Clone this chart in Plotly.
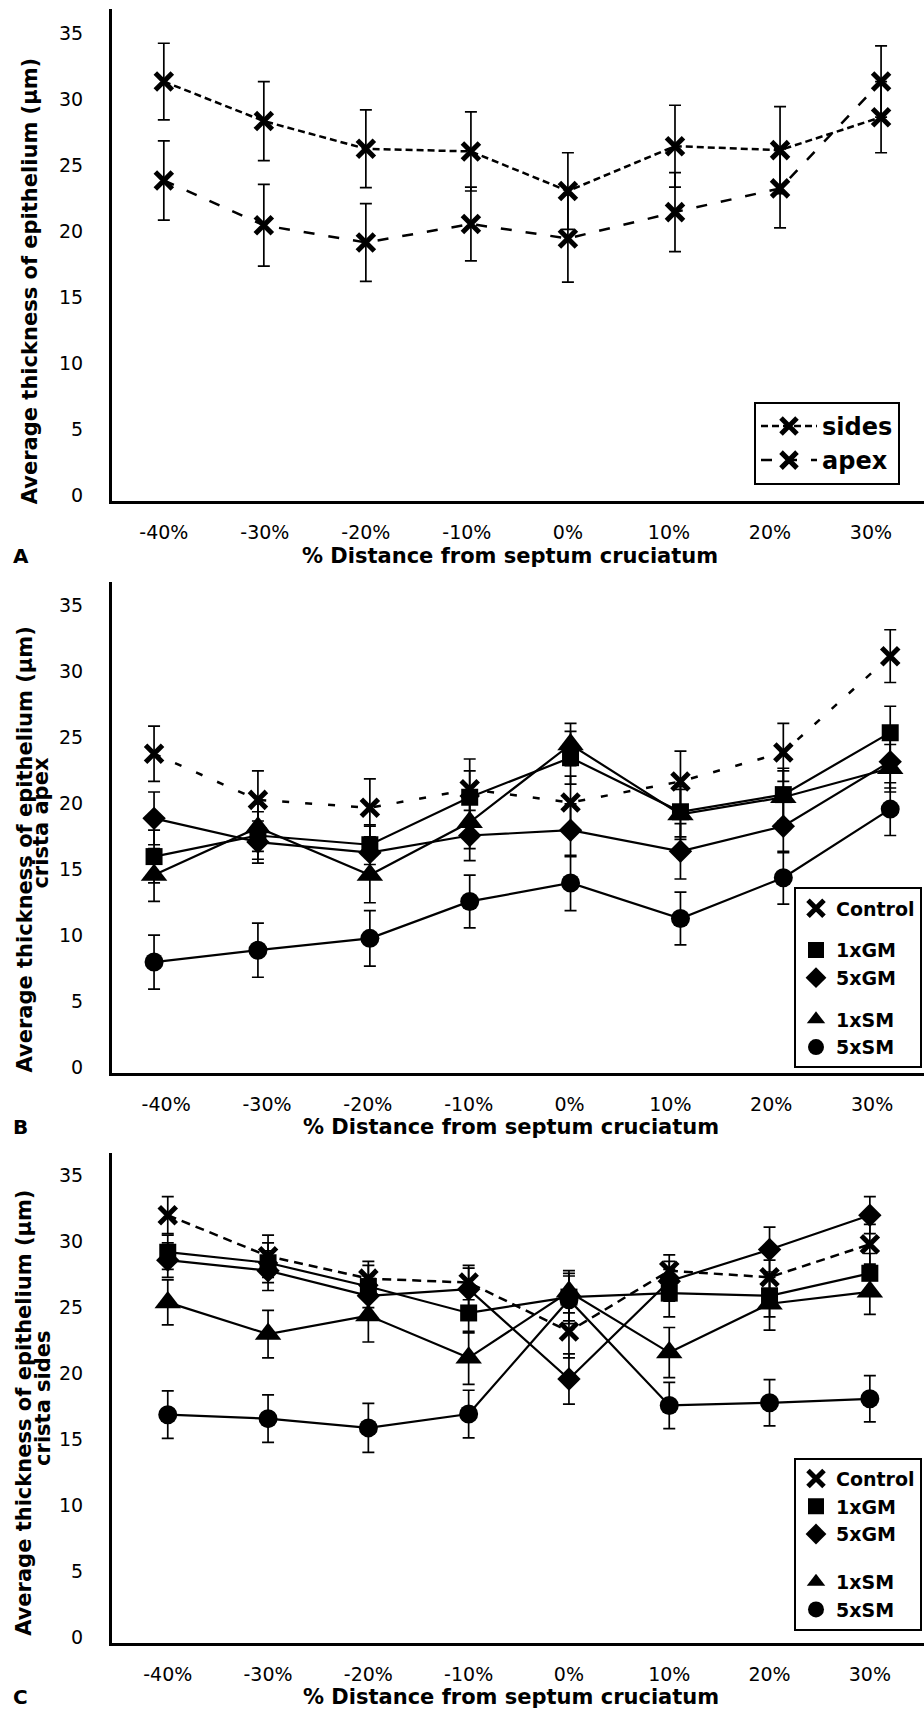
import plotly.graph_objects as go

W, H = 924, 1714

# ---------------- data ----------------
x_ticks = [-40, -30, -20, -10, 0, 10, 20, 30]
x_ticktext = ['-40%', '-30%', '-20%', '-10%', '0%', '10%', '20%', '30%']
y_ticks = [0, 5, 10, 15, 20, 25, 30, 35]
y_ticktext = ['0', '5', '10', '15', '20', '25', '30', '35']

# Panel A
a_x = [-40, -30.1, -20, -9.6, 0, 10.6, 21.0, 31.0]
a_sides = [31.8, 28.8, 26.7, 26.5, 23.5, 26.9, 26.6, 29.1]
a_sides_err = [2.9, 3.0, 2.95, 3.0, 2.9, 3.1, 3.3, 2.7]
a_apex = [24.3, 20.9, 19.6, 21.0, 19.9, 21.9, 23.7, 31.8]
a_apex_err = [3.0, 3.1, 2.95, 2.8, 3.3, 3.0, 3.0, 2.7]

# Panel B (crista apex)
b_x = [-41.2, -30.9, -19.8, -9.9, 0.1, 11.0, 21.2, 31.8]
b_control = [24.2, 20.7, 20.1, 21.5, 20.5, 22.1, 24.3, 31.6]
b_control_err = [2.1, 2.2, 2.2, 2.3, 2.0, 2.3, 2.2, 2.0]
b_1xgm = [16.4, 18.0, 17.3, 20.9, 23.9, 19.8, 21.1, 25.8]
b_1xgm_err = [2.0, 1.8, 1.5, 2.0, 2.0, 1.9, 2.0, 2.0]
b_5xgm = [19.3, 17.5, 16.7, 18.0, 18.4, 16.8, 18.7, 23.6]
b_5xgm_err = [2.0, 1.6, 2.0, 1.9, 2.0, 2.1, 2.0, 2.0]
b_1xsm = [15.0, 18.6, 15.0, 19.0, 24.9, 19.6, 20.9, 23.1]
b_1xsm_err = [2.0, 1.8, 2.1, 2.0, 1.6, 1.9, 2.0, 1.8]
b_5xsm = [8.4, 9.3, 10.2, 13.0, 14.4, 11.7, 14.8, 20.0]
b_5xsm_err = [2.05, 2.05, 2.1, 2.0, 2.1, 2.0, 2.0, 2.0]

# Panel C (crista sides)
c_x = [-40, -30, -20, -10, 0, 10, 20, 30]
c_control = [32.4, 29.3, 27.6, 27.3, 23.6, 28.2, 27.7, 30.2]
c_control_err = [1.4, 1.6, 1.3, 1.3, 2.0, 1.2, 1.3, 1.5]
c_1xgm = [29.6, 28.8, 27.0, 25.0, 26.2, 26.5, 26.3, 28.0]
c_1xgm_err = [1.3, 1.5, 1.6, 1.5, 1.8, 1.8, 1.6, 1.5]
c_5xgm = [29.0, 28.2, 26.3, 26.8, 20.0, 27.4, 29.8, 32.4]
c_5xgm_err = [1.3, 1.5, 1.5, 1.6, 1.9, 1.5, 1.7, 1.4]
c_1xsm = [25.8, 23.4, 24.8, 21.6, 26.6, 22.0, 25.7, 26.6]
c_1xsm_err = [1.7, 1.8, 2.0, 2.0, 1.6, 1.9, 2.0, 1.7]
c_5xsm = [17.3, 17.0, 16.3, 17.35, 26.0, 18.0, 18.2, 18.5]
c_5xsm_err = [1.8, 1.8, 1.85, 1.8, 1.8, 1.75, 1.75, 1.75]

# ---------------- styling ----------------
TICK_FONT = dict(family='DejaVu Sans', size=19, color='black')
BOLD = 'DejaVu Sans'
SYMS = {'Control': 'x-thin', '1xGM': 'square', '5xGM': 'diamond',
        '1xSM': 'triangle-up', '5xSM': 'circle'}
SIZES = {'Control': 17, '1xGM': 17, '5xGM': 18, '1xSM': 23, '5xSM': 19}


def px_x(p):
    return p / W


def px_y(p):
    return 1 - p / H


panels = [
    # (suffix, x-range, y-range, domain top px, domain bottom px)
    ('', [-45.13, 35.25], [0, 37.3], 9, 502.5),
    ('2', [-45.37, 35.15], [0, 37.2], 584, 1076),
    ('3', [-45.56, 35.4], [0, 37.1], 1156.5, 1648),
]

fig = go.Figure()


def marker_for(name):
    sym = SYMS[name]
    if sym == 'x-thin':
        return dict(symbol=sym, size=SIZES[name], color='black',
                    line=dict(color='black', width=5))
    return dict(symbol=sym, size=SIZES[name], color='black',
                line=dict(width=0))


def err(arr):
    return dict(type='data', array=arr, visible=True, color='black',
                thickness=1.7, width=6)


# Panel A traces (these also carry the legend)
fig.add_trace(go.Scatter(
    x=a_x, y=a_sides, error_y=err(a_sides_err), mode='lines+markers',
    name='<b>sides</b>', xaxis='x', yaxis='y', legend='legend',
    line=dict(color='black', width=2.5, dash='7px,4px'),
    marker=marker_for('Control')))
fig.add_trace(go.Scatter(
    x=a_x, y=a_apex, error_y=err(a_apex_err), mode='lines+markers',
    name='<b>apex</b>', xaxis='x', yaxis='y', legend='legend',
    line=dict(color='black', width=2.5, dash='11px,14px'),
    marker=marker_for('Control')))

series_b = [('Control', b_control, b_control_err), ('1xGM', b_1xgm, b_1xgm_err),
            ('5xGM', b_5xgm, b_5xgm_err), ('1xSM', b_1xsm, b_1xsm_err),
            ('5xSM', b_5xsm, b_5xsm_err)]
series_c = [('Control', c_control, c_control_err), ('1xGM', c_1xgm, c_1xgm_err),
            ('5xGM', c_5xgm, c_5xgm_err), ('1xSM', c_1xsm, c_1xsm_err),
            ('5xSM', c_5xsm, c_5xsm_err)]

groups_b = {'Control': 'g1', '1xGM': 'g2', '5xGM': 'g2', '1xSM': 'g3', '5xSM': 'g3'}
groups_c = {'Control': 'g1', '1xGM': 'g1', '5xGM': 'g1', '1xSM': 'g2', '5xSM': 'g2'}

for xs, series, ax, ay, leg, groups, cdash in [
        (b_x, series_b, 'x2', 'y2', 'legend2', groups_b, '7px,16px'),
        (c_x, series_c, 'x3', 'y3', 'legend3', groups_c, '9px,6px')]:
    for name, vals, e in series:
        fig.add_trace(go.Scatter(
            x=xs, y=vals, error_y=err(e), mode='lines+markers', name=name,
            xaxis=ax, yaxis=ay, showlegend=False,
            line=dict(color='black', width=2.5 if name == 'Control' else 2.2,
                      dash=cdash if name == 'Control' else 'solid'),
            marker=marker_for(name)))
    # legend entries (marker only, as in the reference)
    for name, vals, e in series:
        fig.add_trace(go.Scatter(
            x=[None], y=[None], mode='markers', name='<b>%s</b>' % name,
            xaxis=ax, yaxis=ay, legend=leg, legendgroup=leg + groups[name],
            marker=marker_for(name), showlegend=True))

layout = dict(
    width=W, height=H, margin=dict(l=0, r=0, t=0, b=0),
    paper_bgcolor='white', plot_bgcolor='white', showlegend=True,
    font=dict(family='DejaVu Sans', color='black'),
)

CLEAR = 'rgba(0,0,0,0)'
for i, (suf, xr, yr, top, bot) in enumerate(panels):
    ydom = [px_y(bot), px_y(top)]
    xdom = [px_x(112), 1.0]
    # main axes: transparent long ticks only set the label distance
    layout['xaxis' + suf] = dict(
        domain=xdom, range=xr, anchor='y' + suf, tickvals=x_ticks,
        ticktext=x_ticktext, ticks='outside', ticklen=12, tickwidth=3,
        tickcolor=CLEAR, showline=True, linewidth=3, linecolor='black',
        showgrid=False, zeroline=False, tickfont=TICK_FONT)
    layout['yaxis' + suf] = dict(
        domain=ydom, range=yr, anchor='x' + suf, tickvals=y_ticks,
        ticktext=y_ticktext,
        ticks='outside', ticklen=22, tickwidth=3, tickcolor=CLEAR,
        showline=True, linewidth=3, linecolor='black', showgrid=False,
        zeroline=False, tickfont=TICK_FONT, ticklabelshift=-6)
    # overlay axes drawing the visible crossing tick marks
    layout['xaxis' + str(4 + i)] = dict(
        overlaying='x' + suf, anchor='y' + suf, range=xr, tickvals=x_ticks,
        ticks='inside', ticklen=8, tickwidth=3, tickcolor='black',
        showticklabels=False, showline=False, showgrid=False, zeroline=False)
    layout['xaxis' + str(7 + i)] = dict(
        overlaying='x' + suf, anchor='y' + suf, range=xr, tickvals=x_ticks,
        ticks='outside', ticklen=8, tickwidth=3, tickcolor='black',
        showticklabels=False, showline=False, showgrid=False, zeroline=False)
    layout['yaxis' + str(4 + i)] = dict(
        overlaying='y' + suf, anchor='x' + suf, range=yr, tickvals=y_ticks,
        ticks='inside', ticklen=10, tickwidth=3, tickcolor='black',
        showticklabels=False, showline=False, showgrid=False, zeroline=False)
    layout['yaxis' + str(7 + i)] = dict(
        overlaying='y' + suf, anchor='x' + suf, range=yr, tickvals=y_ticks,
        ticks='outside', ticklen=7, tickwidth=3, tickcolor='black',
        showticklabels=False, showline=False, showgrid=False, zeroline=False)

legend_common = dict(bgcolor='white', bordercolor='black', borderwidth=2,
                     orientation='v')
layout['legend'] = dict(legend_common, x=px_x(754), y=px_y(403),
                        xanchor='left', yanchor='top',
                        font=dict(family=BOLD, size=24, color='black'),
                        itemwidth=56)
layout['legend2'] = dict(legend_common, x=px_x(922), y=px_y(890),
                         xanchor='right', yanchor='top', traceorder='grouped',
                         tracegroupgap=14,
                         font=dict(family=BOLD, size=19, color='black'))
layout['legend3'] = dict(legend_common, x=px_x(922), y=px_y(1462),
                         xanchor='right', yanchor='top', traceorder='grouped',
                         tracegroupgap=20,
                         font=dict(family=BOLD, size=19, color='black'))

ann = []


def text(t, x, y, size=21, angle=0):
    ann.append(dict(text='<b>%s</b>' % t, x=px_x(x), y=px_y(y), xref='paper',
                    yref='paper', showarrow=False, xanchor='center',
                    yanchor='middle', textangle=angle,
                    font=dict(family=BOLD, size=size, color='black')))


ytitle = 'Average thickness of epithelium (µm)'
xtitle = '% Distance from septum cruciatum'
# panel A
text(ytitle, 30, 282, angle=-90)
text(xtitle, 510, 558)
text('A', 21, 558, size=20)
# panel B
text(ytitle, 25, 852, angle=-90)
text('crista apex', 41, 826, angle=-90)
text(xtitle, 511, 1130)
text('B', 20, 1130, size=20)
# panel C
text(ytitle, 24, 1417, angle=-90)
text('crista sides', 43, 1402, angle=-90)
text(xtitle, 511, 1702)
text('C', 20, 1702, size=20)

layout['annotations'] = ann
fig.update_layout(**layout)
fig.write_html('out.html')
